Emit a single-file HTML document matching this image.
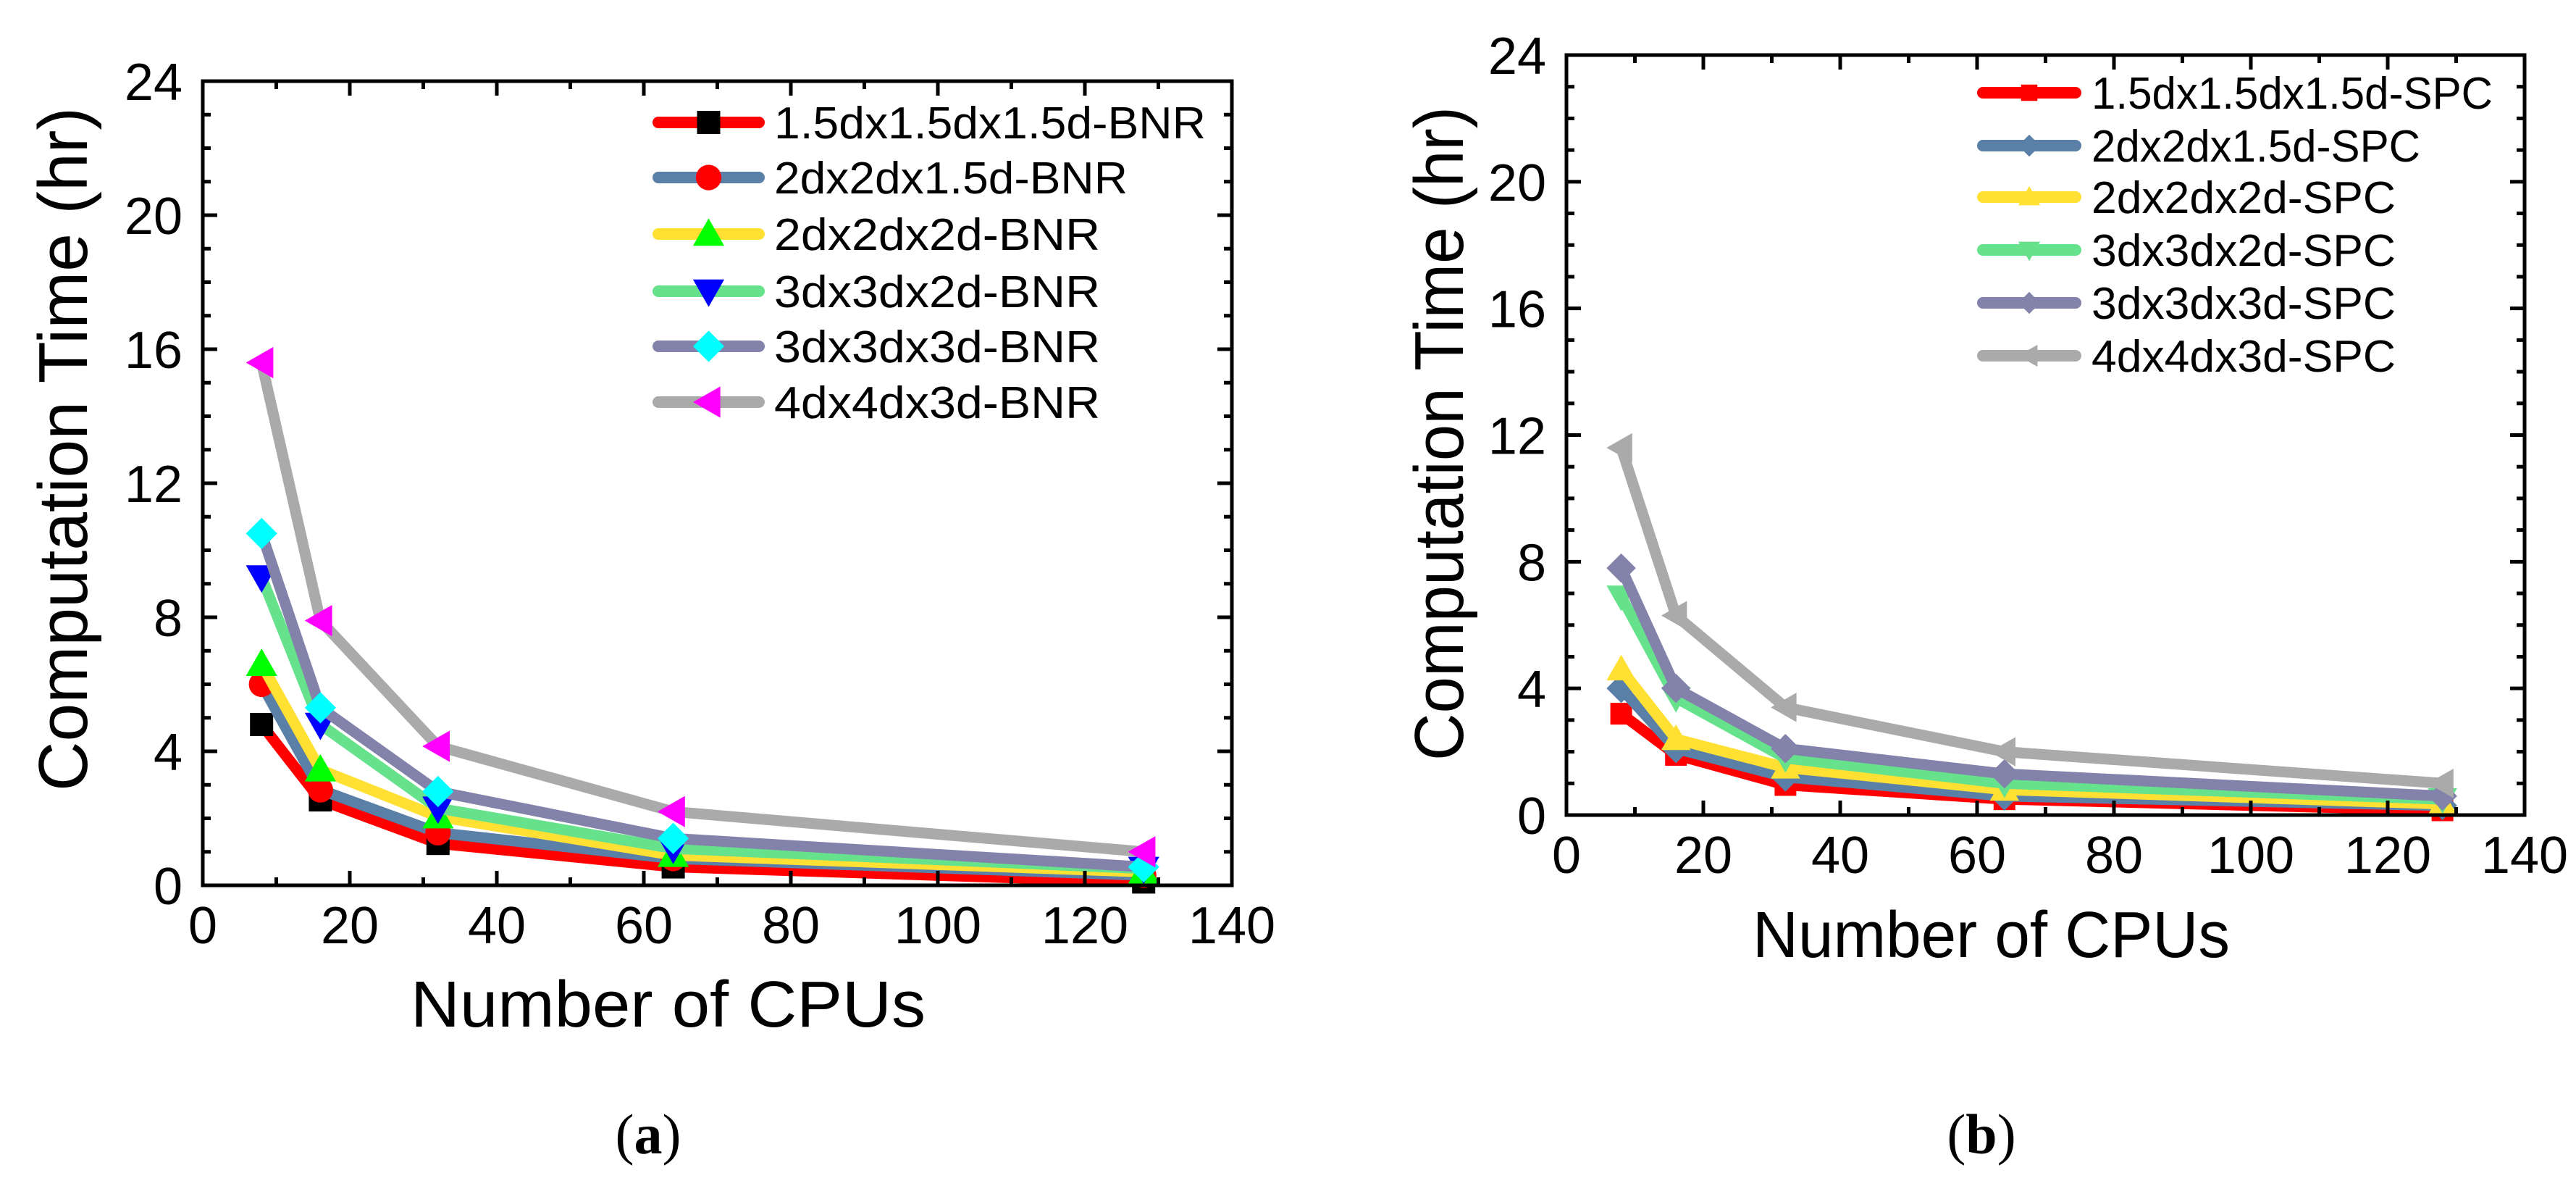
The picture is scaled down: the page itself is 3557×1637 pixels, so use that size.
<!DOCTYPE html>
<html><head><meta charset="utf-8"><style>
html,body{margin:0;padding:0;background:#fff;}
svg{display:block;}
text{font-family:"Liberation Sans",sans-serif;fill:#000;}
</style></head>
<body>
<svg id="fig" width="3557" height="1637" viewBox="0 0 3557 1637" xmlns="http://www.w3.org/2000/svg">
<rect x="0" y="0" width="3557" height="1637" fill="#fff"/>
</svg>
<script>
// ---- data ----
const cpus = [8, 16, 32, 64, 128];
const xTicks = [0, 20, 40, 60, 80, 100, 120, 140];
const yTicks = [0, 4, 8, 12, 16, 20, 24];
const namesA = ["1.5dx1.5dx1.5d-BNR", "2dx2dx1.5d-BNR", "2dx2dx2d-BNR", "3dx3dx2d-BNR", "3dx3dx3d-BNR", "4dx4dx3d-BNR"];
const a1 = [4.8, 2.55, 1.25, 0.55, 0.1];
const a2 = [6.0, 2.85, 1.57, 0.8, 0.3];
const a3 = [6.6, 3.45, 2.05, 0.9, 0.4];
const a4 = [9.2, 4.8, 2.3, 1.1, 0.5];
const a5 = [10.5, 5.3, 2.8, 1.4, 0.55];
const a6 = [15.6, 7.9, 4.15, 2.2, 1.0];
const namesB = ["1.5dx1.5dx1.5d-SPC", "2dx2dx1.5d-SPC", "2dx2dx2d-SPC", "3dx3dx2d-SPC", "3dx3dx3d-SPC", "4dx4dx3d-SPC"];
const b1 = [3.2, 1.9, 0.95, 0.5, 0.15];
const b2 = [4.0, 2.1, 1.2, 0.6, 0.3];
const b3 = [4.6, 2.4, 1.5, 0.8, 0.35];
const b4 = [6.9, 3.7, 1.8, 1.0, 0.5];
const b5 = [7.8, 4.0, 2.1, 1.3, 0.6];
const b6 = [11.6, 6.3, 3.4, 2.0, 1.0];

const lineColors = ["#ff0000", "#5b80a8", "#ffe033", "#66e28c", "#8282aa", "#aaaaaa"];
const markColorsA = ["#000000", "#ff0000", "#00ff00", "#0000ff", "#00ffff", "#ff00ff"];
const markShapesA = ["square", "circle", "up", "down", "diamond", "left"];
const markShapesB = ["square", "diamond", "up", "down", "diamond", "left"];

const NS = "http://www.w3.org/2000/svg";
const svg = document.getElementById("fig");
function mk(tag, attrs, parent) {
  const e = document.createElementNS(NS, tag);
  for (const k in attrs) e.setAttribute(k, attrs[k]);
  (parent || svg).appendChild(e);
  return e;
}
function marker(g, shape, cx, cy, s, color) {
  let e;
  if (shape === "square") e = mk("rect", {x: cx - s, y: cy - s, width: 2 * s, height: 2 * s, fill: color}, g);
  else if (shape === "circle") e = mk("circle", {cx: cx, cy: cy, r: s * 1.1, fill: color}, g);
  else {
    let p;
    const t = s * 1.35;
    if (shape === "up") p = [[cx, cy - t], [cx + t, cy + t * 0.75], [cx - t, cy + t * 0.75]];
    else if (shape === "down") p = [[cx, cy + t], [cx + t, cy - t * 0.75], [cx - t, cy - t * 0.75]];
    else if (shape === "left") p = [[cx - t, cy], [cx + t * 0.75, cy - t], [cx + t * 0.75, cy + t]];
    else p = [[cx, cy - t], [cx + t, cy], [cx, cy + t], [cx - t, cy]];
    e = mk("polygon", {points: p.map(q => q.join(",")).join(" "), fill: color}, g);
  }
  
  
}

function panel(cfg) {
  const g = mk("g", {});
  
  
  const X = v => cfg.x0 + (v - 0) / 140 * (cfg.x1 - cfg.x0);
  const Y = v => cfg.y0 - v / 24 * (cfg.y0 - cfg.y1);
  // series
  cfg.series.forEach((vals, i) => {
    const sg = mk("g", {}, g);
    
    
    const pl = mk("polyline", {points: cpus.map((c, j) => X(c) + "," + Y(vals[j])).join(" "),
      fill: "none", stroke: lineColors[i], "stroke-width": 15, "stroke-linejoin": "miter", "stroke-miterlimit": 2}, sg);
    
    
    cpus.forEach((c, j) => marker(sg, cfg.shapes[i], X(c), Y(vals[j]), cfg.ms, cfg.mcolors ? cfg.mcolors[i] : lineColors[i]));
  });
  // axes frame
  const fr = mk("rect", {x: cfg.x0, y: cfg.y1, width: cfg.x1 - cfg.x0, height: cfg.y0 - cfg.y1, fill: "none", stroke: "#000", "stroke-width": 5}, g);
  
  
  // x ticks
  for (let v = 0; v <= 140; v += 10) {
    const L = v % 20 === 0 ? 20 : 11, x = X(v);
    mk("line", {x1: x, x2: x, y1: cfg.y0, y2: cfg.y0 - L, stroke: "#000", "stroke-width": 5}, g);
    mk("line", {x1: x, x2: x, y1: cfg.y1, y2: cfg.y1 + L, stroke: "#000", "stroke-width": 5}, g);
  }
  for (let v = 0; v <= 24; v += 1) {
    const L = v % 4 === 0 ? 20 : 11, y = Y(v);
    mk("line", {x1: cfg.x0, x2: cfg.x0 + L, y1: y, y2: y, stroke: "#000", "stroke-width": 5}, g);
    mk("line", {x1: cfg.x1, x2: cfg.x1 - L, y1: y, y2: y, stroke: "#000", "stroke-width": 5}, g);
  }
  xTicks.forEach(v => {
    const t = mk("text", {x: X(v), y: cfg.y0 + 80, "font-size": 72, "text-anchor": "middle"}, g);
    t.textContent = v;
    
    
  });
  yTicks.forEach(v => {
    const t = mk("text", {x: cfg.x0 - 28, y: Y(v) + 26, "font-size": 72, "text-anchor": "end"}, g);
    t.textContent = v;
    
    
  });
  const xt = mk("text", {x: cfg.xtX, y: cfg.xtY, "font-size": 90, textLength: cfg.xtW, lengthAdjust: "spacingAndGlyphs"}, g);
  xt.textContent = "Number of CPUs";
  
  
  const yt = mk("text", {x: 0, y: 0, "font-size": 96, textLength: cfg.ytL, lengthAdjust: "spacingAndGlyphs",
    transform: "translate(" + cfg.ytX + "," + cfg.ytB + ") rotate(-90)"}, g);
  yt.textContent = "Computation Time (hr)";
  
  
  // legend
  const lg = mk("g", {}, g);
  
  
  cfg.names.forEach((n, i) => {
    const y = cfg.legY[i];
    const eg = mk("g", {}, lg);
    
    
    mk("line", {x1: cfg.legX0 + 8, x2: cfg.legX1 - 8, y1: y, y2: y, stroke: lineColors[i], "stroke-width": 16, "stroke-linecap": "round"}, eg);
    marker(eg, cfg.shapes[i], (cfg.legX0 + cfg.legX1) / 2, y, cfg.ms * (cfg.mcolors ? 1 : 0.75), cfg.mcolors ? cfg.mcolors[i] : lineColors[i]);
    const t = mk("text", {x: cfg.legTX, y: y + 22, "font-size": 62, textLength: cfg.legW[i], lengthAdjust: "spacingAndGlyphs"}, eg);
    t.textContent = n;
  });
  const cap = mk("text", {x: cfg.capX, y: 1592, "font-size": 78, "text-anchor": "middle", style: "font-family:'Liberation Serif',serif"}, g);
  cap.innerHTML = '(<tspan font-weight="bold">' + cfg.cap + '</tspan>)';
  
  
}

panel({name: "panel-a", x0: 280, x1: 1701, y0: 1222, y1: 112, series: [a1, a2, a3, a4, a5, a6], names: namesA,
  shapes: markShapesA, mcolors: markColorsA, ms: 16,
  xtX: 567, xtY: 1417, xtW: 711, ytX: 120, ytB: 1092, ytL: 944,
  legX0: 901, legX1: 1056, legTX: 1069, legY: [169, 245, 323, 402, 478, 555],
  legW: [596, 488, 450, 450, 450, 450], capX: 895, cap: "a"});
panel({name: "panel-b", x0: 2163, x1: 3486, y0: 1125, y1: 76, series: [b1, b2, b3, b4, b5, b6], names: namesB,
  shapes: markShapesB, mcolors: null, ms: 15,
  xtX: 2420, xtY: 1321, xtW: 659, ytX: 2020, ytB: 1050, ytL: 903,
  legX0: 2730, legX1: 2874, legTX: 2888, legY: [128, 201, 272, 345, 418, 491],
  legW: [554, 454, 420, 420, 420, 420], capX: 2736, cap: "b"});
</script>
</body></html>
